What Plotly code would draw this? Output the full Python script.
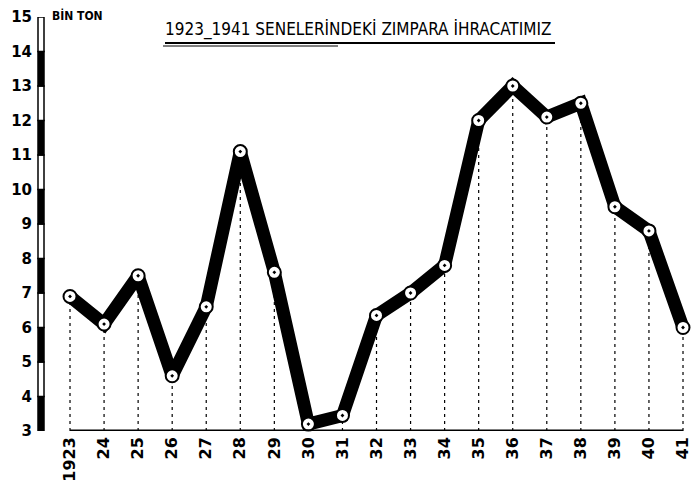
import plotly.graph_objects as go

years = list(range(1923, 1942))
values = [6.9, 6.1, 7.5, 4.6, 6.6, 11.1, 7.6, 3.2, 3.45, 6.35, 7.0, 7.8, 12.0, 13.0, 12.1, 12.5, 9.5, 8.8, 6.0]
x_labels = ["1923", "24", "25", "26", "27", "28", "29", "30", "31", "32", "33", "34",
            "35", "36", "37", "38", "39", "40", "41"]
y_ticks = list(range(3, 16))
title_text = "1923_1941 SENELERİNDEKİ ZIMPARA İHRACATIMIZ"
unit_text = "BİN TON"

fig = go.Figure()

# dotted drop lines
drop_x, drop_y = [], []
for x, v in zip(years, values):
    drop_x += [x, x, None]
    drop_y += [3, v, None]
fig.add_trace(go.Scatter(x=drop_x, y=drop_y, mode="lines",
                         line=dict(color="black", width=1.2, dash="3px,4px"),
                         hoverinfo="skip", showlegend=False))

# thick line
fig.add_trace(go.Scatter(x=years, y=values, mode="lines",
                         line=dict(color="black", width=13),
                         showlegend=False, cliponaxis=False))
# markers
fig.add_trace(go.Scatter(x=years, y=values, mode="markers",
                         marker=dict(symbol="circle-dot", size=13, color="white",
                                     line=dict(color="black", width=2)),
                         showlegend=False, cliponaxis=False))

shapes = []
# striped y-axis bar
for y0 in range(3, 15):
    filled = (y0 % 2 == 1)  # 3-4 black, 4-5 white, ...
    shapes.append(dict(type="rect", xref="paper", yref="y", xsizemode="pixel",
                       xanchor=0, x0=0, x1=6, y0=y0, y1=y0 + 1,
                       fillcolor="black" if filled else "white",
                       line=dict(color="black", width=1.5), layer="above"))
# x-axis base line
shapes.append(dict(type="line", xref="x", yref="y", x0=1923, x1=1941, y0=3, y1=3,
                   line=dict(color="black", width=3)))
# small ticks
for x in years:
    shapes.append(dict(type="line", xref="x", yref="y", ysizemode="pixel", yanchor=3,
                       x0=x, x1=x, y0=0, y1=-5, line=dict(color="black", width=1.5)))
# title underline
shapes.append(dict(type="line", xref="paper", yref="paper", xsizemode="pixel", ysizemode="pixel",
                   xanchor=0, yanchor=1, x0=127, x1=517, y0=-26, y1=-26,
                   line=dict(color="black", width=2)))
shapes.append(dict(type="line", xref="paper", yref="paper", xsizemode="pixel", ysizemode="pixel",
                   xanchor=0, yanchor=1, x0=125, x1=300, y0=-29, y1=-29,
                   line=dict(color="black", width=1)))

fig.update_layout(
    width=692, height=489,
    margin=dict(l=38, r=0, t=17, b=58),
    paper_bgcolor="white", plot_bgcolor="white",
    shapes=shapes,
    xaxis=dict(range=[1922.06, 1941.264], tickvals=years, ticktext=x_labels,
               tickangle=-90, showgrid=False, zeroline=False, showline=False,
               ticks="", automargin=False, ticklabelstandoff=2, ticklabeloverflow="allow",
               tickfont=dict(family="DejaVu Sans", size=16, color="black", weight="bold")),
    yaxis=dict(range=[3, 15], tickvals=y_ticks, ticktext=[str(t) for t in y_ticks],
               showgrid=False, zeroline=False, showline=False, ticks="", automargin=False,
               ticklabelstandoff=5, ticklabeloverflow="allow",
               tickfont=dict(family="DejaVu Sans", size=15, color="black", weight="bold")),
    annotations=[
        dict(text=title_text, xref="paper", yref="paper", x=(163 - 38) / 654, y=1,
             xanchor="left", yanchor="bottom", showarrow=False, yshift=-25,
             font=dict(family="DejaVu Sans Condensed", size=17, color="black")),
        dict(text="<b>" + unit_text + "</b>", xref="paper", yref="paper", x=12 / 654, y=1,
             xanchor="left", yanchor="middle", showarrow=False, yshift=2,
             font=dict(family="DejaVu Sans Condensed", size=12, color="black")),
    ],
)

fig.write_html("out.html", config={"displayModeBar": False},
               post_script="document.body.style.margin='0px';")
